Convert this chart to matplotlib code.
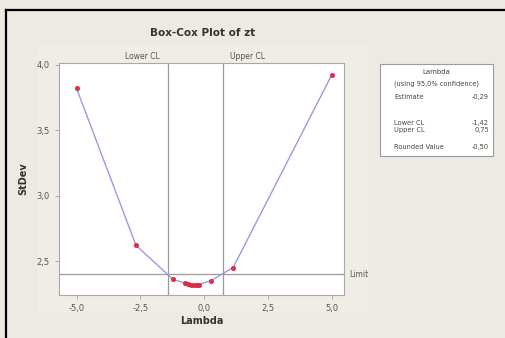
import matplotlib
matplotlib.use("Agg")
import matplotlib.pyplot as plt
from matplotlib.patches import Rectangle
from matplotlib.lines import Line2D

# ---- data ----
lambdas = [-5.0, -2.67, -1.22, -0.75, -0.62, -0.5, -0.4, -0.29, -0.2, 0.27, 1.14, 5.0]
stdev = [3.82, 2.62, 2.36, 2.33, 2.325, 2.32, 2.318, 2.317, 2.32, 2.35, 2.45, 3.92]
lower_cl = -1.42
upper_cl = 0.75
limit = 2.40
xticks = [-5.0, -2.5, 0.0, 2.5, 5.0]
yticks = [2.5, 3.0, 3.5, 4.0]
legend_rows = [("Estimate", "-0,29"), ("Lower CL", "-1,42"), ("Upper CL", "0,75"), ("Rounded Value", "-0,50")]

W, H = 505, 338
fig = plt.figure(figsize=(W / 100, H / 100), dpi=100)
fig.patch.set_facecolor("#EDE9E3")

def fx(px):
    return px / W

def fy(py):
    return 1 - py / H

# subtle lighter graph region
fig.patches.append(Rectangle((fx(38), fy(312)), fx(330), (312 - 45) / H,
                             transform=fig.transFigure, facecolor="#F0EDE6",
                             edgecolor="none", zorder=-5))
# outer black frame (left, top)
fig.lines.append(Line2D([fx(6), fx(6)], [0, fy(10)], transform=fig.transFigure, color="black", lw=1.6))
fig.lines.append(Line2D([fx(6), 1], [fy(10), fy(10)], transform=fig.transFigure, color="black", lw=1.6))

ax = fig.add_axes([fx(59), fy(295), (344 - 59) / W, (295 - 63) / H])
ax.set_zorder(2)
ax.set_facecolor("white")
ax.plot(lambdas, stdev, color="#9A9AE0", lw=1.0, zorder=2)
ax.plot(lambdas, stdev, "o", color="#EC2A44", ms=3.2, mec="#C8204A", mew=0.4, zorder=3)

grey = "#9A9A9A"
ax.axvline(lower_cl, color=grey, lw=0.9, zorder=1)
ax.axvline(upper_cl, color=grey, lw=0.9, zorder=1)
ax.axhline(limit, color=grey, lw=0.9, zorder=1)

ax.set_xlim(-5.69, 5.49)
ax.set_ylim(2.24, 4.015)
ax.set_xticks(xticks)
ax.set_xticklabels([f"{t:.1f}".replace(".", ",") for t in xticks])
ax.set_yticks(yticks)
ax.set_yticklabels([f"{t:.1f}".replace(".", ",") for t in yticks])
ax.tick_params(labelsize=6, colors="#555555", length=3, width=0.6, color=grey)
for s in ax.spines.values():
    s.set_color("#A8A8A8")
    s.set_linewidth(0.8)

ax.set_xlabel("Lambda", fontsize=7, fontweight="bold", color="#333333", labelpad=2)
ax.set_ylabel("StDev", fontsize=7, fontweight="bold", color="#333333", labelpad=6)

fig.text(fx(203), fy(33), "Box-Cox Plot of zt", ha="center", va="center",
         fontsize=7.5, fontweight="bold", color="#333333")

ax.text(lower_cl - 0.3, 1.01, "Lower CL", transform=ax.get_xaxis_transform(),
        ha="right", va="bottom", fontsize=5.5, color="#555555")
ax.text(upper_cl + 0.25, 1.01, "Upper CL", transform=ax.get_xaxis_transform(),
        ha="left", va="bottom", fontsize=5.5, color="#555555")
ax.text(1.02, limit, "Limit", transform=ax.get_yaxis_transform(),
        ha="left", va="center", fontsize=5.5, color="#555555")

# legend box
fig.patches.append(Rectangle((fx(380), fy(156)), (493 - 380) / W, (156 - 64) / H,
                             transform=fig.transFigure, facecolor="white",
                             edgecolor="#9A9A9A", lw=0.8, zorder=3))
fig.text(fx(436), fy(72), "Lambda", ha="center", va="center", fontsize=5, color="#444444", zorder=4)
fig.text(fx(436), fy(84), "(using 95,0% confidence)", ha="center", va="center",
         fontsize=4.8, color="#444444", zorder=4)
row_y = [97, 123, 130, 147]
for (lab, val), yy in zip(legend_rows, row_y):
    fig.text(fx(394), fy(yy), lab, ha="left", va="center", fontsize=4.8, color="#444444", zorder=4)
    fig.text(fx(489), fy(yy), val, ha="right", va="center", fontsize=4.8, color="#444444", zorder=4)

fig.savefig("out.png", dpi=100, facecolor=fig.get_facecolor())
